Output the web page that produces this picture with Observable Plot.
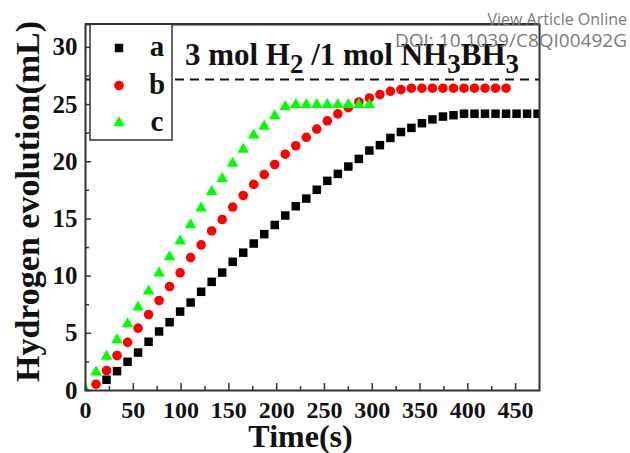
<!DOCTYPE html>
<html><head><meta charset="utf-8">
<script src="https://cdn.jsdelivr.net/npm/d3@7"></script>
<script src="https://cdn.jsdelivr.net/npm/@observablehq/plot@0.6"></script>
<style>
body{margin:0;background:#fff;}
#wrap{position:relative;width:630px;height:453px;overflow:hidden;}
.wm{position:absolute;right:3px;font-family:"Open Sans",sans-serif;color:#7a7a7a;white-space:nowrap;line-height:1;}
</style></head><body>
<div id="wrap"></div>
<script>
// Series a (black squares)
const timesA = [22,33,44,55,66,77,88,99,110,121,132,143,154,165,176,187,198,209,220,231,242,253,264,275,286,297,308,319,330,341,352,363,374,385,396,407,418,429,440,451,462,473];
const valuesA = [0.94,1.69,2.51,3.32,4.26,5.16,5.97,6.9,7.69,8.63,9.5,10.31,11.25,12.05,12.85,13.67,14.47,15.3,16.11,16.78,17.55,18.33,18.94,19.58,20.25,20.98,21.45,22.08,22.6,22.96,23.37,23.7,23.95,24.07,24.2,24.2,24.2,24.2,24.2,24.2,24.2,24.2];
// Series b (red circles)
const timesB = [11,22,33,44,55,66,77,88,99,110,121,132,143,154,165,176,187,198,209,220,231,242,253,264,275,286,297,308,319,330,341,352,363,374,385,396,407,418,429,440];
const valuesB = [0.55,1.75,3.06,4.21,5.45,6.64,7.87,9.09,10.29,11.62,12.73,13.95,14.95,16.04,17.05,18.03,18.88,19.76,20.66,21.4,22.14,22.85,23.58,24.19,24.73,25.23,25.58,25.87,26.16,26.31,26.43,26.43,26.43,26.43,26.43,26.43,26.43,26.43,26.43,26.43];
// Series c (green triangles)
const timesC = [0,11,22,33,44,55,66,77,88,99,110,121,132,143,154,165,176,187,198,209,220,231,242,253,264,275,286,297];
const valuesC = [0,1.6,2.97,4.43,5.83,7.28,8.68,10.25,11.68,13.05,14.48,15.95,17.38,18.53,19.85,21.08,22.33,23.1,24.0,24.82,25.0,25.0,25.0,25.0,25.0,25.0,25.0,25.0];

const seriesNames = ["a","b","c"];
const seriesColors = ["#000000","#ff0000","#00ff00"];
const theoretical = 27.2; // 3 mol H2 / 1 mol NH3BH3

const xMajor = [0,50,100,150,200,250,300,350,400,450];
const xMinor = [25,75,125,175,225,275,325,375,425];
const yMajor = [0,5,10,15,20,25,30];
const yMinor = [2.5,7.5,12.5,17.5,22.5,27.5];

const rows = (ts, vs, s) => ts.map((t, i) => ({t, v: vs[i], s}));
const dataA = rows(timesA, valuesA, "a");
const dataB = rows(timesB, valuesB, "b");
const dataC = rows(timesC, valuesC, "c");

const serif = "'Liberation Serif','Times New Roman',serif";
const axisCol = "#333";

const chart = Plot.plot({
  width: 630, height: 453,
  marginLeft: 85, marginRight: 91, marginTop: 24, marginBottom: 63,
  style: {fontFamily: serif, fontWeight: "bold", background: "#fff", color: "#111"},
  x: {domain: [0, 475]},
  y: {domain: [0, 32]},
  marks: [
    Plot.ruleY([theoretical], {stroke: "#111", strokeWidth: 2, strokeDasharray: "9,6"}),
    Plot.dot(dataA, {x: "t", y: "v", symbol: "square", r: 4.8, fill: seriesColors[0], stroke: "none", clip: true}),
    Plot.dot(dataB, {x: "t", y: "v", symbol: "circle", r: 4.8, fill: seriesColors[1], stroke: "none", clip: true}),
    Plot.dot(dataC, {x: "t", y: "v", symbol: "triangle", r: 4.3, fill: seriesColors[2], stroke: "none", clip: true}),
    Plot.axisX({ticks: xMajor, tickSize: -7, tickFormat: () => "", label: null, stroke: axisCol, strokeWidth: 1.5}),
    Plot.axisX({ticks: xMinor, tickSize: -4, tickFormat: () => "", label: null, stroke: axisCol, strokeWidth: 1.5}),
    Plot.axisX({ticks: xMajor, tickSize: 0, tickPadding: 10, fontSize: 24, label: null, fill: "#111"}),
    Plot.axisY({ticks: yMajor, tickSize: -6, tickFormat: () => "", label: null, stroke: axisCol, strokeWidth: 1.5}),
    Plot.axisY({ticks: yMinor, tickSize: -4, tickFormat: () => "", label: null, stroke: axisCol, strokeWidth: 1.5}),
    Plot.axisY({ticks: yMajor, tickSize: 0, tickPadding: 8, fontSize: 25, label: null, fill: "#111"}),
    Plot.text(["Time(s)"], {frameAnchor: "bottom", textAnchor: "middle", lineAnchor: "middle", dx: -12, dy: 46, fontSize: 32, fill: "#111"}),
    Plot.text(["Hydrogen evolution(mL)"], {frameAnchor: "left", textAnchor: "middle", lineAnchor: "middle", dx: -57, dy: -6, rotate: -90, fontSize: 34, fill: "#111"}),
    Plot.frame({stroke: axisCol, strokeWidth: 2})
  ]
});

document.getElementById("wrap").appendChild(chart);
const svg = d3.select(chart);
const xs = chart.scale("x"), ys = chart.scale("y");

// annotation
const ann = svg.append("text")
  .attr("x", xs.apply(104.5)).attr("y", ys.apply(28.45)).attr("text-anchor", "start")
  .attr("font-family", serif).attr("font-weight", "bold").attr("font-size", 31).attr("fill", "#111");
const parts = [["3 mol H",0],["2",1],[" /1 mol NH",0],["3",1],["BH",0],["3",1]];
let down = false;
parts.forEach(([txt, sub]) => {
  const ts = ann.append("tspan").text(txt);
  if (sub) { ts.attr("font-size", 27); if (!down) { ts.attr("dy", 8); down = true; } }
  else if (down) { ts.attr("dy", -8); down = false; }
});
// legend
const lg = svg.append("g");
lg.append("rect").attr("x", 90).attr("y", 24).attr("width", 82).attr("height", 116)
  .attr("fill", "#fff").attr("stroke", axisCol).attr("stroke-width", 1.5);
seriesNames.forEach((name, i) => {
  const cy = 48 + i * 37.5;
  const r = i === 2 ? 4.3 : 4.8;
  lg.append("path")
    .attr("d", d3.symbol(i === 0 ? d3.symbolSquare : i === 1 ? d3.symbolCircle : d3.symbolTriangle, Math.PI * r * r)())
    .attr("transform", `translate(119,${cy})`).attr("fill", seriesColors[i]);
  lg.append("text").attr("x", 157).attr("y", cy + 8).attr("text-anchor", "middle")
    .attr("font-family", serif).attr("font-weight", "bold").attr("font-size", 29).attr("fill", "#111").text(name);
});
// redraw top frame edge over legend
svg.append("line").attr("x1", 85).attr("x2", 539).attr("y1", 24).attr("y2", 24).attr("stroke", axisCol).attr("stroke-width", 2);

// watermark
const w1 = document.createElement("div"); w1.className = "wm"; w1.style.top = "11px"; w1.style.fontSize = "16px"; w1.textContent = "View Article Online";
const w2 = document.createElement("div"); w2.className = "wm"; w2.style.top = "31px"; w2.style.fontSize = "19px"; w2.textContent = "DOI: 10.1039/C8QI00492G";
document.getElementById("wrap").append(w1, w2);
</script>
</body></html>
